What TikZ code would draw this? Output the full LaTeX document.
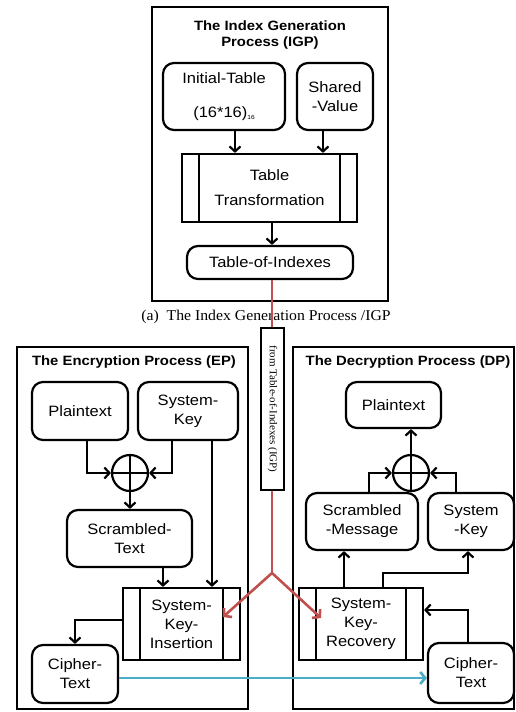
\documentclass[tikz,border=0pt]{standalone}
\usepackage{fontspec}
\setmainfont{Liberation Sans}[FakeStretch=1.1]
\newfontfamily\capserif{Liberation Serif}[FakeStretch=1.05]
\usetikzlibrary{arrows.meta}
\definecolor{linkred}{RGB}{192,80,77}
\definecolor{linkblue}{RGB}{75,172,198}

\begin{document}
\begin{tikzpicture}[x=1pt, y=-1pt,
    every node/.style={font=\fontsize{15}{19}\selectfont},
    frame/.style={draw, line width=2.6pt},
    title/.style={align=center, font=\fontsize{13.5}{16}\selectfont\bfseries},
    rbox/.style={draw, line width=2.2pt, rounded corners=11pt, align=center, inner sep=2pt},
    procbox/.style={draw, line width=2.2pt, align=center, inner sep=2pt,
        path picture={\draw[line width=2.2pt]
            ([xshift=17pt]path picture bounding box.north west) -- ([xshift=17pt]path picture bounding box.south west)
            ([xshift=-17pt]path picture bounding box.north east) -- ([xshift=-17pt]path picture bounding box.south east);}},
    xorsym/.style={circle, draw, line width=2.2pt, minimum size=36pt, inner sep=0pt,
        path picture={\draw[line width=2.2pt]
            (path picture bounding box.north) -- (path picture bounding box.south)
            (path picture bounding box.west) -- (path picture bounding box.east);}},
    arr/.style={line width=2.2pt, -{Straight Barb[length=5pt,width=11pt]}},
    redarr/.style={line width=2.6pt, draw=linkred, -{Straight Barb[length=5pt,width=12pt]}},
    strip/.style={draw, line width=1.4pt, fill=white, rotate=-90, minimum width=162pt, minimum height=23pt,
        inner sep=1pt, font=\capserif\fontsize{10.5}{12}\selectfont}]

    \useasboundingbox (0,0) rectangle (516,712);

    % Index generation process
    \draw[frame] (152,7) rectangle (388,301);
    \node[title] (igpTitle) at (270,35) {The Index Generation\\Process (IGP)};
    \node[rbox, minimum width=122pt, minimum height=67pt] (init) at (224,96.5)
        {Initial-Table\\[15pt](16*16)\raisebox{-2pt}{\fontsize{6}{6}\selectfont 16}};
    \node[rbox, minimum width=76pt, minimum height=67pt] (shared) at (335,96.5) {Shared\\-Value};
    \node[procbox, minimum width=175pt, minimum height=68pt] (trans) at (269.5,188) {Table\\[6pt]Transformation};
    \node[rbox, minimum width=166pt, minimum height=33pt] (toi) at (270,262.5) {Table-of-Indexes};

    \draw[arr] (init.south -| 235,0) -- (trans.north -| 235,0);
    \draw[arr] (shared.south -| 323,0) -- (trans.north -| 323,0);
    \draw[arr] (trans.south -| 272,0) -- (toi.north -| 272,0);

    \node[font=\capserif\fontsize{15}{18}\selectfont] (capA) at (266,317) {(a)\ \ The Index Generation Process /IGP};

    % Encryption process
    \draw[frame] (17,347) rectangle (248,709);
    \node[title] (epTitle) at (134,362) {The Encryption Process (EP)};
    \node[rbox, minimum width=96pt, minimum height=58pt] (ptE) at (80,411) {Plaintext};
    \node[rbox, minimum width=100pt, minimum height=58pt] (keyE) at (188,411) {System-\\Key};
    \node[xorsym] (xorE) at (130,473) {};
    \node[rbox, minimum width=125pt, minimum height=57pt] (scrE) at (129.5,538.5) {Scrambled-\\Text};
    \node[procbox, minimum width=117pt, minimum height=72pt] (ins) at (181.5,624) {System-\\Key-\\Insertion};
    \node[rbox, minimum width=86pt, minimum height=58pt] (ciE) at (75,674) {Cipher-\\Text};

    \draw[arr] (ptE.south -| 87,0) |- (xorE.west);
    \draw[arr] (keyE.south -| 172,0) |- (xorE.east);
    \draw[arr] (xorE.south) -- (scrE.north -| xorE.south);
    \draw[arr] (keyE.south -| 212,0) -- (ins.north -| 212,0);
    \draw[arr] (scrE.south -| 163,0) -- (ins.north -| 163,0);
    \draw[arr] (ins.west |- 0,620) -| (ciE.north);

    % Decryption process
    \draw[frame] (293,347) rectangle (514,709);
    \node[title] (dpTitle) at (408,362) {The Decryption Process (DP)};
    \node[rbox, minimum width=95pt, minimum height=46pt] (ptD) at (393.5,405) {Plaintext};
    \node[xorsym] (xorD) at (411,473) {};
    \node[rbox, minimum width=112pt, minimum height=57pt] (scrD) at (362,521.5) {Scrambled\\-Message};
    \node[rbox, minimum width=86pt, minimum height=57pt] (keyD) at (471,521.5) {System\\-Key};
    \node[procbox, minimum width=124pt, minimum height=72pt] (rec) at (361,624) {System-\\Key-\\Recovery};
    \node[rbox, minimum width=86pt, minimum height=60pt] (ciD) at (471,673) {Cipher-\\Text};

    \draw[arr] (xorD.north) -- (ptD.south -| xorD.north);
    \draw[arr] (scrD.north -| 369,0) |- (xorD.west);
    \draw[arr] (keyD.north -| 456,0) |- (xorD.east);
    \draw[arr] (rec.north -| 344,0) -- (scrD.south -| 344,0);
    \draw[arr] (rec.north -| 383,0) |- (468,573) -- (keyD.south -| 468,0);
    \draw[arr] (ciD.north -| 468,0) |- (rec.east |- 0,610);

    % cipher text sent across
    \draw[line width=2.6pt, draw=linkblue, -{Straight Barb[length=5pt,width=12pt]}] (ciE.east |- 0,678) -- (ciD.west |- 0,678);

    % index table handed to both sides
    \coordinate (branch) at (272,573);
    \coordinate (insIn) at (223,617);
    \coordinate (recIn) at (321,618);
    \draw[line width=2.6pt, draw=linkred] (toi.south -| 272,0) -- (branch);
    \draw[redarr] (branch) -- (insIn);
    \draw[redarr] (branch) -- (recIn);
    \node[strip] (fromIGP) at (272.5,409) {from Table-of-Indexes (IGP)};
\end{tikzpicture}
\end{document}
